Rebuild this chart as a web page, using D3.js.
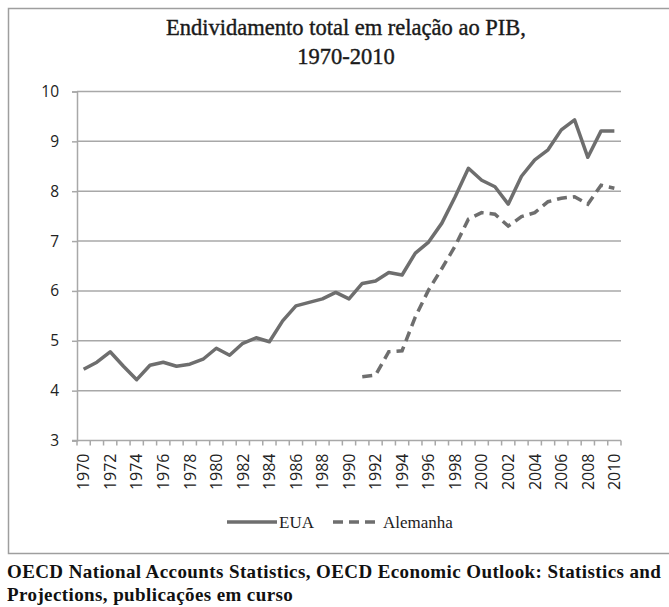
<!DOCTYPE html>
<html>
<head>
<meta charset="utf-8">
<script src="https://cdn.jsdelivr.net/npm/d3@7"></script>
<style>
  html, body { margin: 0; padding: 0; background: #fff; }
  svg { display: block; }
</style>
</head>
<body>
<svg id="chart" width="669" height="607"></svg>
<script>
// Total debt relative to GDP, 1970-2010
const years = d3.range(1970, 2011);
const usa = [4.43, 4.57, 4.78, 4.49, 4.22, 4.51, 4.57, 4.49, 4.53, 4.63,
             4.85, 4.71, 4.95, 5.06, 4.98, 5.40, 5.70, 5.77, 5.84, 5.97,
             5.84, 6.15, 6.20, 6.37, 6.32, 6.76, 6.98, 7.36, 7.89, 8.46,
             8.22, 8.09, 7.74, 8.30, 8.63, 8.83, 9.23, 9.43, 8.68, 9.21, 9.21];
// Germany series starts in 1991
const germanyYears = d3.range(1991, 2011);
const germany = [4.28, 4.31, 4.78, 4.80, 5.48, 6.02, 6.45, 6.90, 7.44, 7.57,
                 7.54, 7.30, 7.49, 7.57, 7.79, 7.86, 7.89, 7.74, 8.12, 8.06];
const yTicks = [3, 4, 5, 6, 7, 8, 9, 10];
const titleLines = ["Endividamento total em relação ao PIB,", "1970-2010"];
const seriesNames = ["EUA", "Alemanha"];
const sourceLines = [
  "OECD National Accounts Statistics, OECD Economic Outlook: Statistics and",
  "Projections, publicações em curso"
];

const svg = d3.select("#chart");
const gridColor = "#a8a8a8";
const lineColor = "#6e6e6e";
const sansFont = "'Open Sans', 'Liberation Sans', sans-serif";
const serifFont = "'Liberation Serif', 'DejaVu Serif', serif";

// outer frame
svg.append("rect")
  .attr("x", 8.5).attr("y", 8.5)
  .attr("width", 662).attr("height", 545)
  .attr("fill", "none").attr("stroke", "#9e9e9e").attr("stroke-width", 1.5);

// title
svg.append("g").selectAll("text").data(titleLines).join("text")
  .attr("x", 346).attr("y", (d, i) => 35 + i * 29)
  .attr("text-anchor", "middle")
  .attr("font-family", serifFont).attr("font-size", 22.5)
  .attr("fill", "#1a1a1a").attr("stroke", "#1a1a1a").attr("stroke-width", 0.4)
  .text(d => d);

const plot = { left: 77, right: 621, top: 91.5, bottom: 440.5 };

const x = d3.scaleBand().domain(years).range([plot.left, plot.right]);
const cx = yr => x(yr) + x.bandwidth() / 2;
const y = d3.scaleLinear().domain([3, 10]).range([plot.bottom, plot.top]);

// horizontal gridlines
svg.append("g").selectAll("line").data(yTicks.filter(t => t > 3)).join("line")
  .attr("x1", plot.left).attr("x2", plot.right)
  .attr("y1", d => y(d)).attr("y2", d => y(d))
  .attr("stroke", gridColor).attr("stroke-width", 1.5);

// y axis
const yAxis = svg.append("g")
  .attr("transform", `translate(${plot.left},0)`)
  .call(d3.axisLeft(y).tickValues(yTicks).tickSize(5).tickPadding(13).tickFormat(d3.format("d")));
yAxis.select(".domain").attr("stroke", gridColor).attr("stroke-width", 1.5);
yAxis.selectAll(".tick line").attr("stroke", gridColor).attr("stroke-width", 1.5);
yAxis.selectAll(".tick text")
  .attr("font-family", sansFont).attr("font-size", 15.5).attr("fill", "#222");

// x axis: baseline with ticks on category boundaries
const xAxis = svg.append("g").attr("transform", `translate(0,${plot.bottom})`);
xAxis.append("line")
  .attr("x1", plot.left - 5).attr("x2", plot.right)
  .attr("stroke", gridColor).attr("stroke-width", 1.5);
const edges = years.map(yr => x(yr)).concat([x(years[years.length - 1]) + x.bandwidth()]);
xAxis.selectAll("line.tk").data(edges).join("line").attr("class", "tk")
  .attr("x1", d => d).attr("x2", d => d).attr("y1", 0).attr("y2", 5)
  .attr("stroke", gridColor).attr("stroke-width", 1.5);
xAxis.selectAll("text").data(years.filter(yr => yr % 2 === 0)).join("text")
  .attr("transform", d => `translate(${cx(d)},13) rotate(-90)`)
  .attr("text-anchor", "end").attr("dy", "0.36em")
  .attr("font-family", sansFont).attr("font-size", 16).attr("fill", "#222")
  .text(d => d);

// series
const line = d3.line().x(d => cx(d[0])).y(d => y(d[1]));
svg.append("path")
  .datum(years.map((yr, i) => [yr, usa[i]]))
  .attr("d", line)
  .attr("fill", "none").attr("stroke", lineColor).attr("stroke-width", 3.5)
  .attr("stroke-linejoin", "round");
svg.append("path")
  .datum(germanyYears.map((yr, i) => [yr, germany[i]]))
  .attr("d", line)
  .attr("fill", "none").attr("stroke", lineColor).attr("stroke-width", 3.5)
  .attr("stroke-dasharray", "10,6");

// legend
const legend = svg.append("g");
const legendItems = [
  { name: seriesNames[0], x1: 227, x2: 277, dash: null },
  { name: seriesNames[1], x1: 333, x2: 375, dash: "10,6" }
];
legendItems.forEach(it => {
  legend.append("line")
    .attr("x1", it.x1).attr("x2", it.x2).attr("y1", 522).attr("y2", 522)
    .attr("stroke", lineColor).attr("stroke-width", 3.5)
    .attr("stroke-dasharray", it.dash);
  legend.append("text")
    .attr("x", it.x2 + (it.dash ? 8 : 2)).attr("y", 528)
    .attr("font-family", serifFont).attr("font-size", 17).attr("fill", "#1c1c1c")
    .text(it.name);
});

// source note
svg.append("g").selectAll("text").data(sourceLines).join("text")
  .attr("x", 7).attr("y", (d, i) => 578 + i * 23)
  .attr("font-family", serifFont).attr("font-size", 19).attr("font-weight", "bold")
  .attr("letter-spacing", 0.4)
  .attr("fill", "#111")
  .text(d => d);
</script>
</body>
</html>
